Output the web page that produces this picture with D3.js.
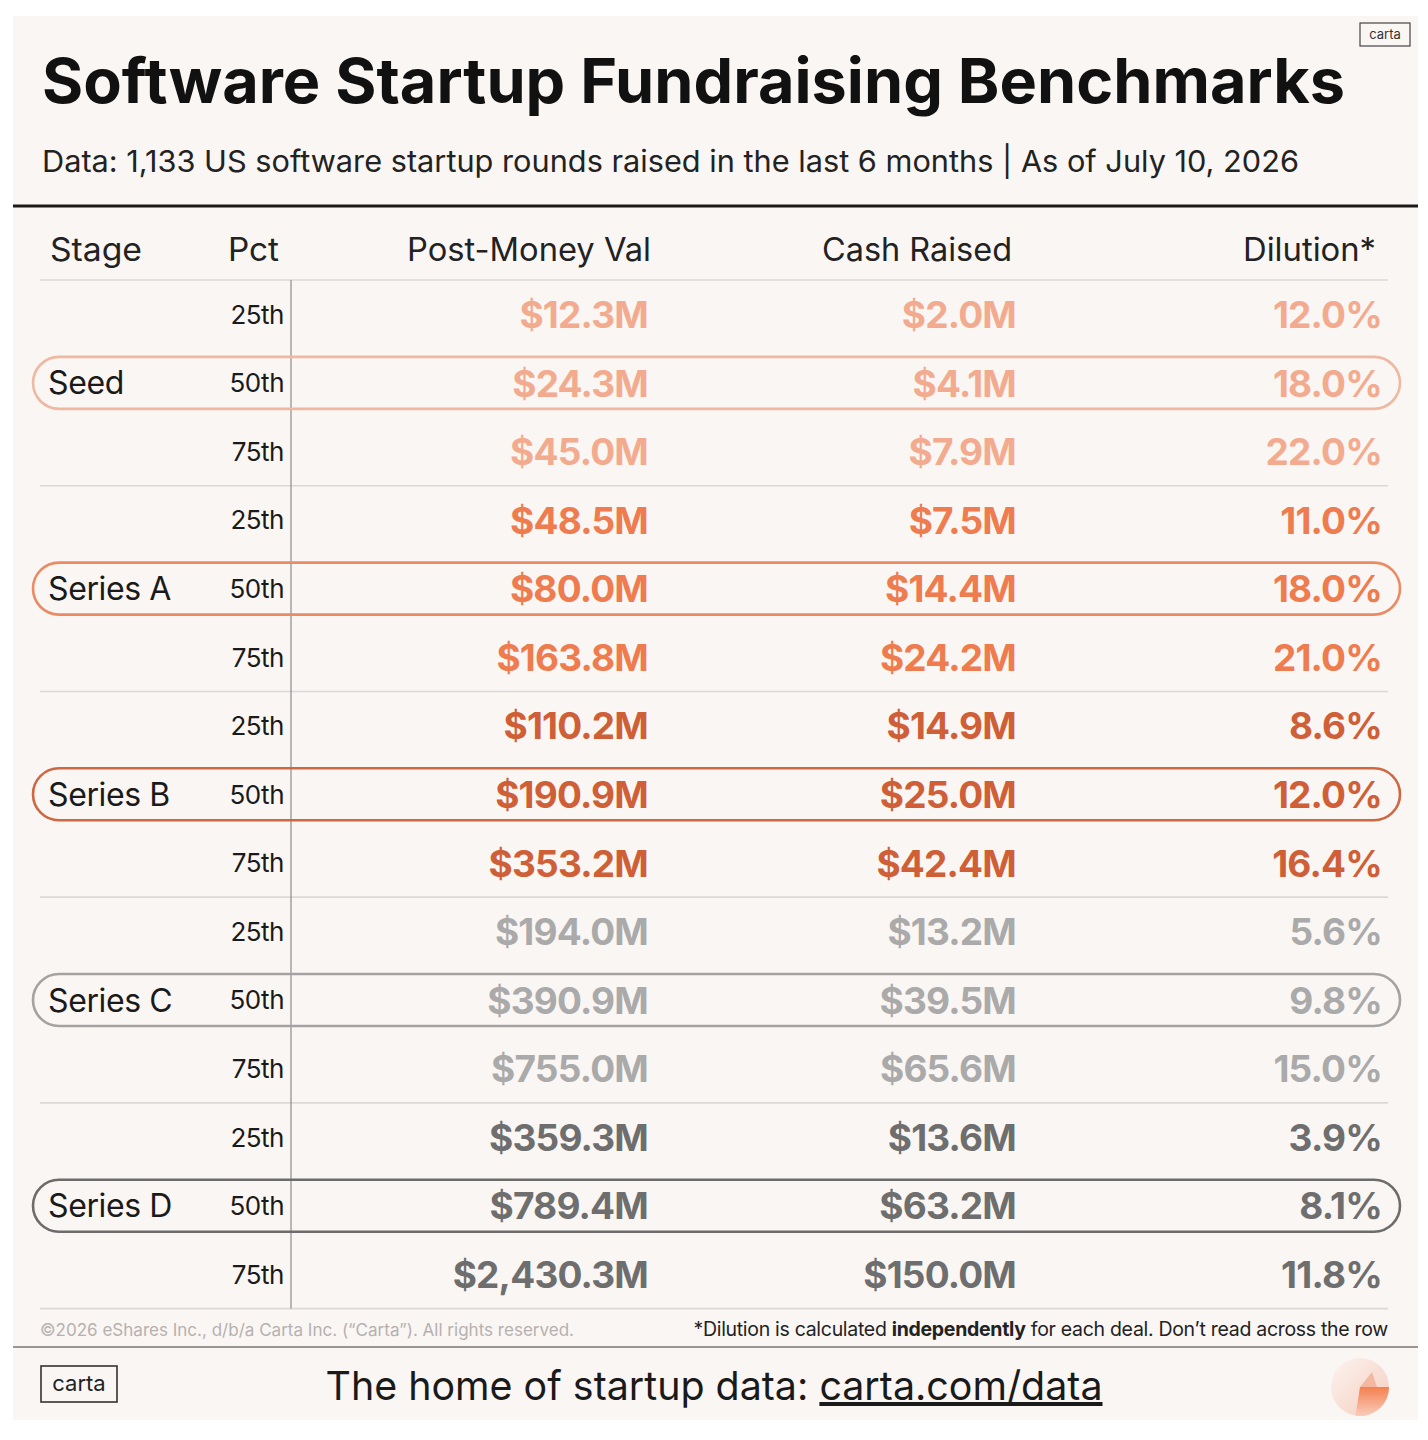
<html>
<head>
<meta charset="utf-8">
<script src="https://d3js.org/d3.v7.min.js"></script>
<style>
body {
	margin: 0;
	background: #fff;
	font-family: Inter, "Noto Sans", sans-serif;
}
</style>
</head>
<body>
<div id="chart"></div>
<script>
	var stages = ["Seed", "Series A", "Series B", "Series C", "Series D"];
	var pcts = ["25th", "50th", "75th"];
	var columns = ["Post-Money Val", "Cash Raised", "Dilution*"];

	var postMoney = [12.3, 24.3, 45.0, 48.5, 80.0, 163.8, 110.2, 190.9, 353.2, 194.0, 390.9, 755.0, 359.3, 789.4, 2430.3];
	var cashRaised = [2.0, 4.1, 7.9, 7.5, 14.4, 24.2, 14.9, 25.0, 42.4, 13.2, 39.5, 65.6, 13.6, 63.2, 150.0];
	var dilution = [12.0, 18.0, 22.0, 11.0, 18.0, 21.0, 8.6, 12.0, 16.4, 5.6, 9.8, 15.0, 3.9, 8.1, 11.8];

	var stageColors = ["#F3AB8F", "#EE7C4E", "#CF5F37", "#AAAAAA", "#6E6E6E"];
	var ovalColors = ["#EFB8A1", "#EB8B63", "#CF6740", "#A3A3A3", "#6C6C6C"];

	var W = 1428, H = 1440;
	var bg = "#FAF6F4";

	var svg = d3.select("#chart").append("svg")
		.attr("width", W)
		.attr("height", H);

	// panel
	svg.append("rect")
		.attr("x", 13).attr("y", 16)
		.attr("width", 1405).attr("height", 1404)
		.attr("fill", bg);

	// title + subtitle
	svg.append("text")
		.attr("x", 42).attr("y", 103)
		.attr("textLength", 1303)
		.attr("lengthAdjust", "spacingAndGlyphs")
		.style("font-size", "62px")
		.style("font-weight", 700)
		.style("fill", "#111")
		.text("Software Startup Fundraising Benchmarks");

	svg.append("text")
		.attr("x", 42).attr("y", 172)
		.attr("textLength", 1257)
		.attr("lengthAdjust", "spacingAndGlyphs")
		.style("font-size", "30px")
		.style("fill", "#222")
		.text("Data: 1,133 US software startup rounds raised in the last 6 months | As of July 10, 2026");

	// small logo top-right
	var logoTop = svg.append("g").attr("transform", "translate(1360,23)");
	logoTop.append("rect").attr("width", 50).attr("height", 23)
		.attr("fill", "none").attr("stroke", "#444").attr("stroke-width", 1.2);
	logoTop.append("text").attr("x", 25).attr("y", 16)
		.attr("text-anchor", "middle")
		.style("font-size", "13px").style("fill", "#333")
		.text("carta");

	svg.append("line")
		.attr("x1", 13).attr("x2", 1418)
		.attr("y1", 206).attr("y2", 206)
		.attr("stroke", "#1a1a1a").attr("stroke-width", 3);

	// rows
	var rows = [];
	stages.forEach(function(s, si) {
		pcts.forEach(function(p, pi) {
			var i = si * 3 + pi;
			rows.push({stage: s, si: si, pct: p, pi: pi, i: i,
				vals: [postMoney[i], cashRaised[i], dilution[i]]});
		});
	});

	var y = d3.scaleBand()
		.domain(rows.map(d => d.i))
		.range([280, 1308.6]);

	var x = d3.scaleOrdinal()
		.domain(columns)
		.range([648, 1016, 1382]);

	var fmtMoney = v => "$" + d3.format(",.1f")(v) + "M";
	var fmtPct = v => d3.format(".1f")(v) + "%";
	var fmts = [fmtMoney, fmtMoney, fmtPct];

	// header
	svg.append("text").attr("x", 50).attr("y", 261)
		.attr("textLength", 92).attr("lengthAdjust", "spacingAndGlyphs")
		.style("font-size", "32px").style("fill", "#222").text("Stage");
	svg.append("text").attr("x", 228).attr("y", 261)
		.attr("textLength", 51).attr("lengthAdjust", "spacingAndGlyphs")
		.style("font-size", "32px").style("fill", "#222").text("Pct");
	var headW = [244, 190, 133];
	svg.selectAll("text.colhead")
		.data(columns)
		.join("text")
		.attr("class", "colhead")
		.attr("x", (d, k) => x(d) + (k === 2 ? -6 : (k === 1 ? -4 : 3)))
		.attr("y", 261)
		.attr("text-anchor", "end")
		.attr("textLength", (d, k) => headW[k])
		.attr("lengthAdjust", "spacingAndGlyphs")
		.style("font-size", "32px").style("fill", "#222")
		.text(d => d);

	// grid lines
	var sepYs = [280].concat(stages.map((s, si) => y(si * 3 + 2) + y.bandwidth()));
	svg.selectAll("line.sep")
		.data(sepYs)
		.join("line")
		.attr("class", "sep")
		.attr("x1", 40).attr("x2", 1388)
		.attr("y1", d => d).attr("y2", d => d)
		.attr("stroke", "#DCD8D6").attr("stroke-width", 1.6);

	svg.append("line")
		.attr("x1", 291).attr("x2", 291)
		.attr("y1", 280).attr("y2", y(14) + y.bandwidth())
		.attr("stroke", "#8C8C8C").attr("stroke-width", 1.2);

	// ovals around the median rows
	var medians = rows.filter(d => d.pi === 1);
	svg.selectAll("rect.oval")
		.data(medians)
		.join("rect")
		.attr("class", "oval")
		.attr("x", 33)
		.attr("y", d => y(d.i) + y.bandwidth() / 2 - 26)
		.attr("width", 1367)
		.attr("height", 52)
		.attr("rx", 26)
		.attr("fill", "none")
		.attr("stroke", d => ovalColors[d.si])
		.attr("stroke-width", 2.6);

	svg.selectAll("text.stage")
		.data(medians)
		.join("text")
		.attr("class", "stage")
		.attr("x", 48)
		.attr("y", d => y(d.i) + y.bandwidth() / 2)
		.attr("dy", "0.36em")
		.style("font-size", "32px").style("fill", "#1a1a1a")
		.style("letter-spacing", "-0.4px")
		.text(d => d.stage);

	svg.selectAll("text.pct")
		.data(rows)
		.join("text")
		.attr("class", "pct")
		.attr("x", 284)
		.attr("y", d => y(d.i) + y.bandwidth() / 2)
		.attr("dy", "0.36em")
		.attr("text-anchor", "end")
		.style("font-size", "26px").style("fill", "#1a1a1a")
		.style("letter-spacing", "-0.5px")
		.text(d => d.pct);

	var cells = svg.selectAll("g.row")
		.data(rows)
		.join("g")
		.attr("class", "row")
		.attr("transform", d => "translate(0," + (y(d.i) + y.bandwidth() / 2) + ")");

	cells.selectAll("text")
		.data(d => d.vals.map((v, k) => ({v: v, k: k, si: d.si})))
		.join("text")
		.attr("x", d => x(columns[d.k]))
		.attr("dy", "0.37em")
		.attr("text-anchor", "end")
		.style("font-size", "37px")
		.style("font-weight", 700)
		.style("letter-spacing", "-0.8px")
		.style("fill", d => stageColors[d.si])
		.text(d => fmts[d.k](d.v));

	// footer notes
	svg.append("text").attr("x", 40).attr("y", 1336)
		.attr("textLength", 534).attr("lengthAdjust", "spacingAndGlyphs")
		.style("font-size", "17px").style("fill", "#B5B1AF")
		.text("\u00A92026 eShares Inc., d/b/a Carta Inc. (\u201CCarta\u201D). All rights reserved.");

	var note = svg.append("text").attr("x", 1388).attr("y", 1336)
		.attr("text-anchor", "end")
		.style("font-size", "19.5px").style("fill", "#222")
		.style("letter-spacing", "-0.3px");
	note.append("tspan").text("*Dilution is calculated ");
	note.append("tspan").style("font-weight", 700).text("independently");
	note.append("tspan").text(" for each deal. Don\u2019t read across the row");

	svg.append("line")
		.attr("x1", 13).attr("x2", 1418)
		.attr("y1", 1347).attr("y2", 1347)
		.attr("stroke", "#9A9696").attr("stroke-width", 2);

	var logoBot = svg.append("g").attr("transform", "translate(41,1366)");
	logoBot.append("rect").attr("width", 76).attr("height", 36)
		.attr("fill", "none").attr("stroke", "#333").attr("stroke-width", 1.6);
	logoBot.append("text").attr("x", 38).attr("y", 25)
		.attr("text-anchor", "middle")
		.style("font-size", "22px").style("fill", "#222")
		.text("carta");

	var tag = svg.append("text").attr("x", 714).attr("y", 1400)
		.attr("text-anchor", "middle")
		.attr("textLength", 777).attr("lengthAdjust", "spacingAndGlyphs")
		.style("font-size", "40px").style("fill", "#1a1a1a");
	tag.append("tspan").text("The home of startup data: ");
	tag.append("tspan").style("text-decoration", "underline").text("carta.com/data");

	// round icon bottom-right
	var defs = svg.append("defs");
	var g1 = defs.append("linearGradient").attr("id", "ic1")
		.attr("x1", "0").attr("y1", "0").attr("x2", "1").attr("y2", "1");
	g1.append("stop").attr("offset", "0").attr("stop-color", "#FCF3F0");
	g1.append("stop").attr("offset", "1").attr("stop-color", "#F5CDBD");
	var g2 = defs.append("linearGradient").attr("id", "ic2")
		.attr("x1", "0").attr("y1", "0").attr("x2", "0").attr("y2", "1");
	g2.append("stop").attr("offset", "0").attr("stop-color", "#F5804F");
	g2.append("stop").attr("offset", "1").attr("stop-color", "#F8CDBB");
	svg.append("circle").attr("cx", 1360).attr("cy", 1387).attr("r", 29)
		.attr("fill", "url(#ic1)");
	var arc = d3.arc().innerRadius(0).outerRadius(29);
	svg.append("path")
		.attr("transform", "translate(1360,1387)")
		.attr("d", arc({startAngle: Math.PI / 2, endAngle: Math.PI * 1.05}))
		.attr("fill", "url(#ic2)");
	svg.append("path")
		.attr("transform", "translate(1360,1387)")
		.attr("d", "M0,0 L12,-15 L17,0 Z")
		.attr("fill", "#F4B7A0");
</script>
</body>
</html>
